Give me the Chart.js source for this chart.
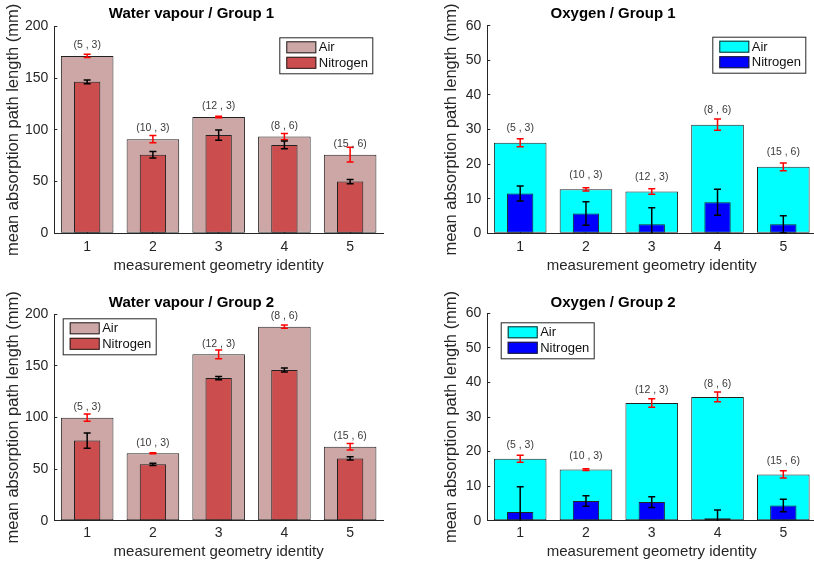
<!DOCTYPE html>
<html>
<head>
<meta charset="utf-8">
<title>Mean absorption path length</title>
<script src="https://cdn.jsdelivr.net/npm/chart.js@4.4.1/dist/chart.umd.min.js"></script>
<style>
    html, body { margin: 0; padding: 0; background: #fff; }
    #figure { position: relative; width: 814px; height: 561px; overflow: hidden; }
    #figure canvas { position: absolute; }
</style>
</head>
<body>
<div id="figure">
    <canvas id="water-g1" width="410" height="280" style="left:0;top:0"></canvas>
    <canvas id="oxygen-g1" width="410" height="280" style="left:410px;top:0"></canvas>
    <canvas id="water-g2" width="410" height="276" style="left:0;top:285px"></canvas>
    <canvas id="oxygen-g2" width="410" height="276" style="left:410px;top:285px"></canvas>
</div>
<script>
// Measurement geometries (x axis) and their (distance , height) tags
const geometryIds = [1, 2, 3, 4, 5];
const geometryTags = ['(5 , 3)', '(10 , 3)', '(12 , 3)', '(8 , 6)', '(15 , 6)'];

// Water vapour / Group 1
const waterG1Air = [171.5, 91, 112.5, 93.5, 76];
const waterG1AirErr = [1.6, 3.5, 0.8, 3.1, 7.1];
const waterG1Nitrogen = [146.5, 76, 95, 85.5, 50];
const waterG1NitrogenErr = [1.8, 3.2, 5, 3.7, 2.1];

// Oxygen / Group 1
const oxygenG1Air = [26.2, 12.7, 12.1, 31.4, 19.2];
const oxygenG1AirErr = [1.15, 0.45, 0.8, 1.6, 1.1];
const oxygenG1Nitrogen = [11.5, 5.7, 2.6, 9.0, 2.6];
const oxygenG1NitrogenErr = [2.2, 3.4, 4.75, 3.75, 2.5];

// Water vapour / Group 2
const waterG2Air = [99.7, 65.2, 161, 187.7, 71.6];
const waterG2AirErr = [3.5, 0.5, 4.2, 1.6, 3.2];
const waterG2Nitrogen = [77.5, 54.5, 138, 145.8, 60.3];
const waterG2NitrogenErr = [7.3, 1.1, 1.5, 1.9, 1.6];

// Oxygen / Group 2
const oxygenG2Air = [17.9, 14.8, 34.05, 35.8, 13.4];
const oxygenG2AirErr = [1.0, 0.25, 1.25, 1.4, 1.05];
const oxygenG2Nitrogen = [2.5, 5.7, 5.4, 0.7, 4.4];
const oxygenG2NitrogenErr = [7.3, 1.5, 1.55, 2.4, 1.8];

const FONT = "'Liberation Sans', Arial, Helvetica, sans-serif";
const AXIS_COLOR = '#262626';
const EDGE_COLOR = '#222222';

/**
 * Error bars: drawn from each dataset's `errors` array
 */
const errorBarPlugin = {
    id: 'errorBars',
    afterDatasetsDraw(chart) {
        const { ctx, chartArea, scales: { y } } = chart;
        ctx.save();
        ctx.beginPath();
        ctx.rect(chartArea.left, chartArea.top, chartArea.right - chartArea.left, chartArea.bottom - chartArea.top);
        ctx.clip();
        chart.data.datasets.forEach((ds, di) => {
            if (!ds.errors) return;
            const meta = chart.getDatasetMeta(di);
            ctx.strokeStyle = ds.errorColor;
            ctx.lineWidth = 1.5;
            meta.data.forEach((bar, i) => {
                const v = ds.data[i].y;
                const e = ds.errors[i];
                const top = y.getPixelForValue(v + e);
                const bottom = y.getPixelForValue(v - e);
                const cap = 3.5;
                ctx.beginPath();
                ctx.moveTo(bar.x, top);
                ctx.lineTo(bar.x, bottom);
                ctx.moveTo(bar.x - cap, top);
                ctx.lineTo(bar.x + cap, top);
                ctx.moveTo(bar.x - cap, bottom);
                ctx.lineTo(bar.x + cap, bottom);
                ctx.stroke();
            });
        });
        ctx.restore();
    }
};

/**
 * Geometry tags written above the Air bars
 */
const geometryTagPlugin = {
    id: 'geometryTags',
    afterDatasetsDraw(chart, args, opts) {
        const { ctx } = chart;
        const meta = chart.getDatasetMeta(0);
        ctx.save();
        ctx.font = `10.5px ${FONT}`;
        ctx.fillStyle = '#3a3a3a';
        ctx.textAlign = 'center';
        ctx.textBaseline = 'middle';
        meta.data.forEach((bar, i) => {
            ctx.fillText(opts.tags[i], bar.x, bar.y - opts.offset);
        });
        ctx.restore();
    }
};

/**
 * Boxed legend placed inside the axes
 */
const boxLegendPlugin = {
    id: 'boxLegend',
    afterDraw(chart, args, opts) {
        const { ctx } = chart;
        const w = 94, h = 37;
        ctx.save();
        ctx.fillStyle = '#fff';
        ctx.strokeStyle = AXIS_COLOR;
        ctx.lineWidth = 1;
        ctx.fillRect(opts.x, opts.y, w, h);
        ctx.strokeRect(opts.x + 0.5, opts.y + 0.5, w - 1, h - 1);
        ctx.font = `13px ${FONT}`;
        ctx.textBaseline = 'middle';
        chart.data.datasets.forEach((ds, i) => {
            const sy = opts.y + 4 + i * 15.5;
            ctx.fillStyle = ds.backgroundColor;
            ctx.fillRect(opts.x + 7, sy, 30, 12);
            ctx.strokeStyle = EDGE_COLOR;
            ctx.strokeRect(opts.x + 7.5, sy + 0.5, 29, 11);
            ctx.fillStyle = '#111';
            ctx.fillText(ds.label, opts.x + 39.5, sy + 6.5);
        });
        ctx.restore();
    }
};

/**
 * Build one panel: wide Air bars with narrow Nitrogen bars on top
 */
function buildPanel(canvasId, panel) {
    const ctx = document.getElementById(canvasId);
    const L = panel.layout;
    return new Chart(ctx, {
        type: 'bar',
        data: {
            datasets: [{
                label: 'Air',
                data: geometryIds.map((g, i) => ({ x: g, y: panel.air[i] })),
                errors: panel.airErr,
                errorColor: '#ff0000',
                backgroundColor: panel.airColor,
                borderColor: EDGE_COLOR,
                borderWidth: 1,
                borderSkipped: false,
                grouped: false,
                categoryPercentage: 1,
                barPercentage: 0.8,
                order: 1
            }, {
                label: 'Nitrogen',
                data: geometryIds.map((g, i) => ({ x: g, y: panel.nitrogen[i] })),
                errors: panel.nitrogenErr,
                errorColor: '#000000',
                backgroundColor: panel.nitrogenColor,
                borderColor: EDGE_COLOR,
                borderWidth: 1,
                borderSkipped: false,
                grouped: false,
                categoryPercentage: 1,
                barPercentage: 0.4,
                order: 0
            }]
        },
        options: {
            responsive: false,
            animation: false,
            events: [],
            layout: { padding: { left: 0, top: 0, right: L.padRight, bottom: 0 } },
            scales: {
                x: {
                    type: 'linear',
                    min: 0.5,
                    max: 5.5,
                    offset: false,
                    afterBuildTicks: s => { s.ticks = geometryIds.map(v => ({ value: v })); },
                    afterFit: s => { s.height = L.xAxisHeight; },
                    grid: { display: true, drawOnChartArea: false, drawTicks: true, tickLength: -3, color: AXIS_COLOR, offset: false },
                    border: { display: true, color: AXIS_COLOR, width: 1 },
                    ticks: {
                        color: AXIS_COLOR,
                        font: { size: 14, family: FONT },
                        padding: L.xTickPad,
                        maxRotation: 0,
                        autoSkip: false,
                        callback: v => String(v)
                    },
                    title: {
                        display: true,
                        text: 'measurement geometry identity',
                        color: AXIS_COLOR,
                        font: { size: 15, family: FONT },
                        padding: { top: 0, bottom: L.xTitlePad }
                    }
                },
                y: {
                    min: 0,
                    max: panel.yMax,
                    afterFit: s => { s.width = L.yAxisWidth; },
                    grid: { display: true, drawOnChartArea: false, drawTicks: true, tickLength: -3, color: AXIS_COLOR },
                    border: { display: true, color: AXIS_COLOR, width: 1 },
                    ticks: {
                        stepSize: panel.yStep,
                        color: AXIS_COLOR,
                        font: { size: 14, family: FONT },
                        padding: 9
                    },
                    title: {
                        display: true,
                        text: 'mean absorption path length (mm)',
                        color: AXIS_COLOR,
                        font: { size: 16.5, family: FONT },
                        padding: { top: L.yTitlePad, bottom: 0 }
                    }
                }
            },
            plugins: {
                legend: { display: false },
                tooltip: { enabled: false },
                title: {
                    display: true,
                    text: panel.title,
                    color: '#000',
                    font: { size: 15, weight: 'bold', family: FONT },
                    padding: { top: L.titleTop, bottom: L.titleBottom }
                },
                geometryTags: { tags: geometryTags, offset: L.tagOffset },
                boxLegend: { x: L.legendX, y: L.legendY }
            }
        },
        plugins: [errorBarPlugin, geometryTagPlugin, boxLegendPlugin]
    });
}

const WATER_AIR = 'rgb(205, 166, 166)';
const WATER_N2 = 'rgb(204, 77, 77)';
const OXYGEN_AIR = 'rgb(0, 255, 255)';
const OXYGEN_N2 = 'rgb(0, 0, 255)';

buildPanel('water-g1', {
    title: 'Water vapour / Group 1',
    yMax: 200, yStep: 50,
    air: waterG1Air, airErr: waterG1AirErr,
    nitrogen: waterG1Nitrogen, nitrogenErr: waterG1NitrogenErr,
    airColor: WATER_AIR, nitrogenColor: WATER_N2,
    layout: {
        yAxisWidth: 54.3, xAxisHeight: 46.7, padRight: 27,
        titleTop: 4.5, titleBottom: 4, yTitlePad: 3.6, xTitlePad: 5, xTickPad: 8,
        tagOffset: 11, legendX: 279.3, legendY: 37.3
    }
});

buildPanel('oxygen-g1', {
    title: 'Oxygen / Group 1',
    yMax: 60, yStep: 10,
    air: oxygenG1Air, airErr: oxygenG1AirErr,
    nitrogen: oxygenG1Nitrogen, nitrogenErr: oxygenG1NitrogenErr,
    airColor: OXYGEN_AIR, nitrogenColor: OXYGEN_N2,
    layout: {
        yAxisWidth: 77.3, xAxisHeight: 46.7, padRight: 3.8,
        titleTop: 5, titleBottom: 2.7, yTitlePad: 31.8, xTitlePad: 5, xTickPad: 8,
        tagOffset: 14.6, legendX: 302.3, legendY: 36.7
    }
});

buildPanel('water-g2', {
    title: 'Water vapour / Group 2',
    yMax: 200, yStep: 50,
    air: waterG2Air, airErr: waterG2AirErr,
    nitrogen: waterG2Nitrogen, nitrogenErr: waterG2NitrogenErr,
    airColor: WATER_AIR, nitrogenColor: WATER_N2,
    layout: {
        yAxisWidth: 54.3, xAxisHeight: 40.3, padRight: 27,
        titleTop: 8.5, titleBottom: 2.5, yTitlePad: 3.6, xTitlePad: 0, xTickPad: 7.2,
        tagOffset: 10.5, legendX: 62.7, legendY: 33.3
    }
});

buildPanel('oxygen-g2', {
    title: 'Oxygen / Group 2',
    yMax: 60, yStep: 10,
    air: oxygenG2Air, airErr: oxygenG2AirErr,
    nitrogen: oxygenG2Nitrogen, nitrogenErr: oxygenG2NitrogenErr,
    airColor: OXYGEN_AIR, nitrogenColor: OXYGEN_N2,
    layout: {
        yAxisWidth: 77.3, xAxisHeight: 40.3, padRight: 3.8,
        titleTop: 8.5, titleBottom: 1.8, yTitlePad: 32, xTitlePad: 0, xTickPad: 7.2,
        tagOffset: 13.3, legendX: 90.7, legendY: 37.3
    }
});
</script>
</body>
</html>
